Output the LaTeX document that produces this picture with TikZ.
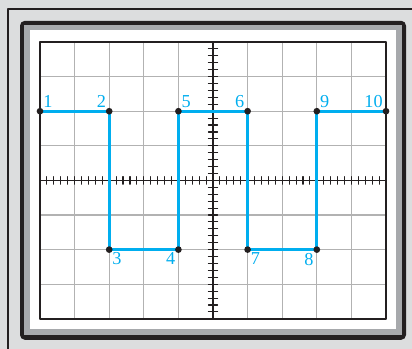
\documentclass[tikz,border=0pt]{standalone}
\usepackage{fontspec}
\setmainfont{Liberation Serif}
\definecolor{wavecyan}{RGB}{0,174,239}
\definecolor{bezellight}{RGB}{220,221,222}
\definecolor{bezelmid}{RGB}{167,169,172}
\definecolor{bezeldark}{RGB}{35,31,32}
\definecolor{gridgray}{RGB}{178,178,178}
\begin{document}
\begin{tikzpicture}[line join=round, line cap=round, font=\fontsize{15}{18}\selectfont,
	wave/.style={wavecyan, line width=2.4pt},
	dot/.style={circle, fill=bezeldark, inner sep=0pt, minimum size=5.5pt},
	lbl/.style={text=wavecyan, inner sep=2.5pt}]
	% picture area and bezel
	\clip (-1.156,-0.867) rectangle (10.751,9.214);
	\fill[bezellight] (-1.156,-0.867) rectangle (10.751,9.214);
	\draw[bezeldark, line width=1.5pt] (-0.925,-2) -- (-0.925,8.96) -- (12,8.96);
	\fill[bezeldark, rounded corners=4pt] (-0.578,-0.607) rectangle (10.578,8.613);
	\fill[bezelmid] (-0.462,-0.462) rectangle (10.462,8.497);
	\fill[white] (-0.289,-0.289) rectangle (10.29,8.353);
	% screen
	\draw[gridgray, line width=1.1pt] (0,0) grid (10,8);
	\draw[bezeldark, line width=1.1pt] (0,4) -- (10,4) (5,0) -- (5,8);
	\foreach \i in {1,...,49}
		\draw[bezeldark, line width=0.9pt] ({\i/5},3.89) -- ({\i/5},4.11);
	\foreach \i in {1,...,39}
		\draw[bezeldark, line width=0.9pt] (4.87,{\i/5}) -- (5.13,{\i/5});
	\draw[bezeldark, line width=1.7pt] (0,0) rectangle (10,8);
	% waveform
	\path 
	(0,6) coordinate (P1)
	(2,6) coordinate (P2)
	(2,2) coordinate (P3)
	(4,2) coordinate (P4)
	(4,6) coordinate (P5)
	(6,6) coordinate (P6)
	(6,2) coordinate (P7)
	(8,2) coordinate (P8)
	(8,6) coordinate (P9)
	(10,6) coordinate (P10)
	;
	\draw[wave] (P1)--(P2)--(P3)--(P4)--(P5)--(P6)--(P7)--(P8)--(P9)--(P10);
	\foreach \p in {P1,P2,P3,P4,P5,P6,P7,P8,P9,P10}
		\node[dot] (d\p) at (\p) {};
	\node[lbl] (L1) at (P1)[above right]{1};
	\node[lbl] (L2) at (P2)[above left]{2};
	\node[lbl] (L3) at (P3)[below right]{3};
	\node[lbl] (L4) at (P4)[below left]{4};
	\node[lbl] (L5) at (P5)[above right]{5};
	\node[lbl] (L6) at (P6)[above left]{6};
	\node[lbl] (L7) at (P7)[below right]{7};
	\node[lbl] (L8) at (P8)[below left]{8};
	\node[lbl] (L9) at (P9)[above right]{9};
	\node[lbl] (L10) at (P10)[above left]{10};
\end{tikzpicture}
\end{document}
